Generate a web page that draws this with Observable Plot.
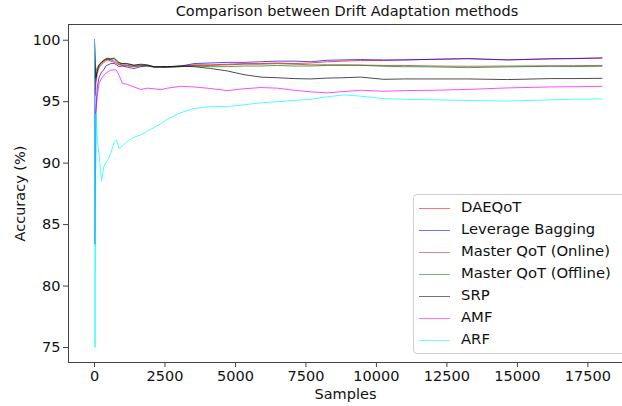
<!DOCTYPE html>
<html>
<head>
<meta charset="utf-8">
<script src="https://cdn.jsdelivr.net/npm/d3@7"></script>
<script src="https://cdn.jsdelivr.net/npm/@observablehq/plot@0.6"></script>
<style>
  html, body { margin: 0; padding: 0; background: #fff; }
  #wrap { position: relative; width: 622px; height: 406px; overflow: hidden; font-family: "DejaVu Sans", sans-serif; }
  #title { position: absolute; left: 0; width: 694px; top: 3px; text-align: center; font-size: 14.5px; color: #111; }
  #legend { position: absolute; left: 413px; top: 194px; width: 215px; height: 160px; box-sizing: border-box;
            border: 1px solid #d0d0d0; border-radius: 4px; background: rgba(255,255,255,0.85); }
  .item { position: absolute; left: 0; height: 20px; }
  .item .sw { position: absolute; left: 5px; top: 10px; width: 31px; height: 0; border-top: 1.3px solid; }
  .item .lb { position: absolute; left: 47px; top: 0px; font-size: 14.8px; color: #111; white-space: nowrap; }
</style>
</head>
<body>
<div id="wrap">
  <div id="chart"></div>
  <div id="title">Comparison between Drift Adaptation methods</div>
  <div id="legend"></div>
</div>
<script>
const series = ["DAEQoT", "Leverage Bagging", "Master QoT (Online)", "Master QoT (Offline)", "SRP", "AMF", "ARF"];
const colors = ["#ff0000", "#0000ff", "#a52a2a", "#008000", "#000000", "#ff00ff", "#00ffff"];

const samples = [0, 20, 50, 100, 165, 250, 330, 400, 480, 580, 700, 780, 870, 990, 1170, 1400, 1640, 1880, 2110, 2350, 2590, 3060, 3530, 4120, 4710, 5300, 5900, 6490, 7080, 7670, 8260, 8850, 9440, 10260, 11000, 12040, 13240, 14650, 16180, 17000, 18000];

const daeqot = [100, 95.5, 96.5, 97.3, 97.8, 98.0, 98.2, 98.3, 98.4, 98.3, 98.2, 98.1, 98.0, 97.95, 97.9, 97.85, 97.9, 97.95, 97.85, 97.8, 97.8, 97.9, 98.0, 98.0, 98.05, 98.1, 98.1, 98.15, 98.1, 98.15, 98.25, 98.3, 98.35, 98.35, 98.4, 98.45, 98.5, 98.4, 98.5, 98.52, 98.55];
const leverageBagging = [100, 83.4, 94.0, 96.2, 97.0, 97.4, 97.6, 97.9, 98.0, 98.1, 98.1, 98.0, 97.85, 97.9, 97.8, 97.7, 97.85, 97.9, 97.8, 97.85, 97.85, 97.9, 98.1, 98.15, 98.2, 98.2, 98.25, 98.3, 98.3, 98.25, 98.37, 98.4, 98.43, 98.4, 98.4, 98.45, 98.5, 98.4, 98.48, 98.5, 98.56];
const masterOnline = [100, 96.0, 97.0, 97.5, 97.9, 98.1, 98.3, 98.4, 98.45, 98.4, 98.3, 98.2, 98.05, 98.0, 97.95, 97.9, 97.95, 97.9, 97.85, 97.8, 97.8, 97.85, 97.95, 97.95, 98.0, 98.05, 98.05, 98.1, 98.05, 98.0, 98.0, 98.0, 97.98, 97.95, 97.95, 97.9, 97.88, 97.9, 97.92, 97.93, 97.95];
const masterOffline = [100, 96.5, 97.5, 97.8, 98.0, 98.2, 98.4, 98.5, 98.55, 98.5, 98.55, 98.4, 98.2, 98.1, 98.05, 97.95, 98.0, 97.95, 97.85, 97.8, 97.8, 97.85, 97.9, 97.85, 97.85, 97.9, 97.9, 97.95, 97.9, 97.9, 97.95, 97.95, 97.96, 97.88, 97.85, 97.83, 97.77, 97.83, 97.88, 97.86, 97.88];
const srp = [100, 98.4, 96.9, 97.6, 98.0, 98.23, 98.35, 98.45, 98.5, 98.45, 98.5, 98.3, 98.15, 98.1, 98.1, 97.97, 98.05, 98.0, 97.83, 97.85, 97.85, 97.9, 97.85, 97.7, 97.5, 97.2, 97.0, 96.95, 96.88, 96.85, 96.92, 96.95, 97.0, 96.82, 96.85, 96.85, 96.85, 96.8, 96.88, 96.88, 96.9];
const amf = [100, 93.75, 94.5, 95.5, 96.5, 96.9, 97.15, 97.3, 97.45, 97.56, 97.6, 97.56, 97.15, 96.5, 96.4, 96.2, 96.0, 96.1, 96.05, 95.97, 96.1, 96.25, 96.2, 96.07, 95.9, 96.05, 96.15, 96.1, 95.93, 95.8, 95.72, 95.82, 95.93, 95.85, 95.9, 95.93, 96.0, 96.12, 96.2, 96.22, 96.25];
const arf = [100, 75.0, 94.0, 92.0, 90.6, 88.6, 89.7, 90.0, 90.3, 90.8, 91.7, 91.9, 91.2, 91.4, 91.8, 92.1, 92.3, 92.6, 92.9, 93.2, 93.6, 94.1, 94.45, 94.6, 94.6, 94.75, 94.9, 95.0, 95.1, 95.2, 95.4, 95.55, 95.45, 95.25, 95.2, 95.15, 95.1, 95.05, 95.15, 95.2, 95.22];

const values = [daeqot, leverageBagging, masterOnline, masterOffline, srp, amf, arf];

const xTicks = [0, 2500, 5000, 7500, 10000, 12500, 15000, 17500];
const yTicks = [75, 80, 85, 90, 95, 100];
const xDomain = [-922, 18728];
const yDomain = [73.78, 101.28];

const rows = [];
series.forEach((name, i) => {
  samples.forEach((s, j) => rows.push({series: name, s, v: values[i][j]}));
});

const chart = Plot.plot({
  width: 622,
  height: 406,
  marginLeft: 68,
  marginRight: 0,
  marginTop: 24,
  marginBottom: 44,
  style: {fontFamily: "DejaVu Sans, sans-serif", fontSize: "14.5px", color: "#111", background: "#fff"},
  x: {domain: xDomain},
  y: {domain: yDomain},
  color: {domain: series, range: colors},
  marks: [
    Plot.line(rows, {x: "s", y: "v", z: "series", stroke: "series", strokeWidth: 1, strokeOpacity: 0.7}),
    Plot.ruleY([yDomain[1]], {stroke: "#444", strokeWidth: 1}),
    Plot.ruleY([yDomain[0]], {stroke: "#444", strokeWidth: 1}),
    Plot.ruleX([xDomain[0]], {stroke: "#444", strokeWidth: 1}),
    Plot.axisX({ticks: xTicks, tickFormat: d => String(d), tickSize: 5, tickPadding: 3, fontSize: 14.5, label: "Samples", labelAnchor: "center", labelArrow: "none", labelOffset: 36, stroke: "#444"}),
    Plot.axisY({ticks: yTicks, tickFormat: d => String(d), tickSize: 5, tickPadding: 3, fontSize: 14.5, label: "Accuracy (%)", labelAnchor: "center", labelArrow: "none", labelOffset: 54, stroke: "#444"})
  ]
});
document.getElementById("chart").appendChild(chart);

const legend = document.getElementById("legend");
series.forEach((name, i) => {
  const item = document.createElement("div");
  item.className = "item";
  item.style.top = (3 + i * 22.05) + "px";
  const sw = document.createElement("div");
  sw.className = "sw";
  sw.style.borderTopColor = colors[i];
  sw.style.opacity = 0.55;
  const lb = document.createElement("div");
  lb.className = "lb";
  lb.textContent = name;
  item.appendChild(sw);
  item.appendChild(lb);
  legend.appendChild(item);
});
</script>
</body>
</html>
